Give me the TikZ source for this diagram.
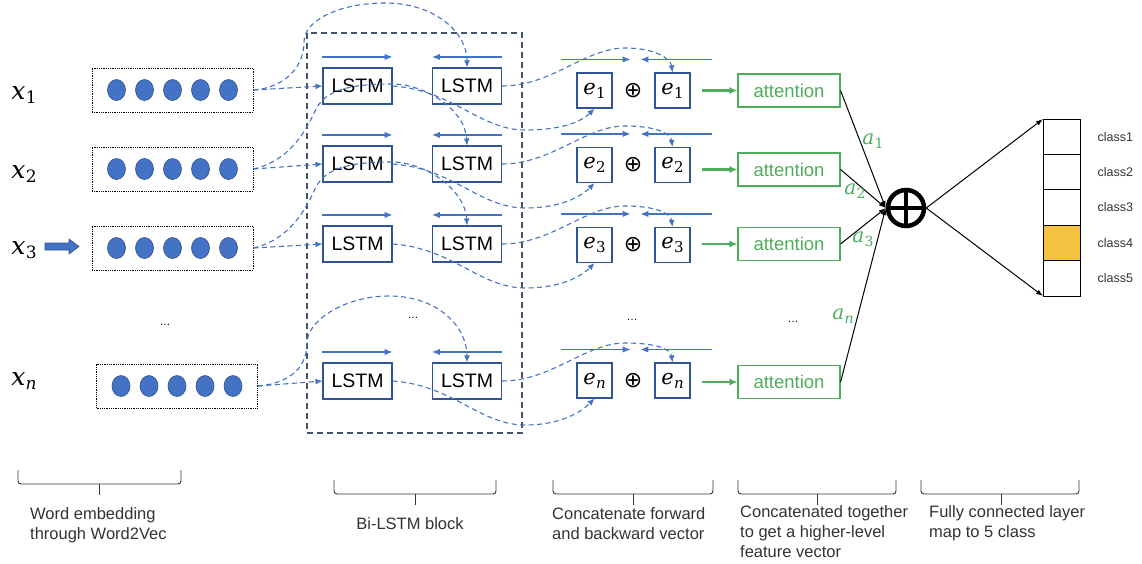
\documentclass[tikz,border=0pt]{standalone}
\usepackage{fontspec}
\setmainfont{Liberation Sans}
\newfontfamily\varfont{DejaVu Serif}
\newfontfamily\symfont{DejaVu Sans}
\usetikzlibrary{arrows.meta,calc}
\definecolor{lblue}{HTML}{4472C4}
\definecolor{dblue}{HTML}{2F5597}
\definecolor{edgeblue}{HTML}{2F528F}
\definecolor{slate}{HTML}{44546A}
\definecolor{grn}{HTML}{4EAD5B}
\definecolor{gold}{HTML}{F5C242}
\definecolor{braceg}{HTML}{333333}
\newcommand{\fs}[1]{\fontsize{#1}{#1}\selectfont}
% italic symbol with a lowered subscript: size, subscript size, letter, subscript
\newcommand{\sym}[4]{{\varfont\fs{#1}\itshape #3}\kern0.3pt\raisebox{-4pt}{\varfont\fs{#2}#4}}
\begin{document}
\begin{tikzpicture}[x=1pt,y=-1pt,
  emb/.style={draw=black, densely dotted, line width=0.8pt, minimum width=161pt, minimum height=44pt, inner sep=0pt},
  lstm/.style={draw=dblue, line width=1.1pt, minimum width=69pt, minimum height=36pt, inner sep=0pt, font=\fs{19.5}},
  ebox/.style={draw=dblue, line width=1.1pt, minimum width=35pt, minimum height=35pt, inner sep=0pt},
  att/.style={draw=grn, line width=1.1pt, minimum width=102pt, minimum height=33pt, inner sep=0pt, text=grn, font=\fs{18.5}},
  flow/.style={draw=lblue, line width=1.1pt, dash pattern=on 5pt off 3.5pt, -{Latex[length=7pt,width=6pt]}},
  dirarrow/.style={draw=lblue, line width=1.3pt, -{Latex[length=8pt,width=6.5pt]}},
  garrow/.style={draw=grn, line width=2.5pt, -{Latex[length=8pt,width=7pt]}},
  blk/.style={draw=black, line width=1pt, -{Latex[length=7pt,width=5pt]}},
  brk/.style={draw=braceg, line width=0.9pt, rounded corners=3pt},
  note/.style={anchor=base west, inner sep=0pt, font=\fs{16.5}, text=braceg},
  dots/.style={font=\fs{11}}
]
\useasboundingbox (0,0) rectangle (1142,563);

% word embedding boxes with their vector entries
\foreach \r/\Y/\X in {1/90/172.5, 2/169/172.5, 3/248/172.5, n/386/177}{
  \node[emb] (emb\r) at (\X,\Y) {};
  \foreach \dx in {-56,-28,0,28,56}
    \filldraw[fill=lblue, draw=edgeblue, line width=0.6pt] ({\X+\dx},\Y) ellipse [x radius=9, y radius=10.5];
}
\foreach \r/\Y/\s in {1/95/1, 2/174/2, 3/250/3, n/381/\itshape n}
  \node[inner sep=0pt] (x\r) at (24,\Y) {\sym{25}{17}{x}{\s}};
\filldraw[fill=lblue, draw=edgeblue, line width=0.6pt]
  (45,243) -- (69,243) -- (69,239) -- (79,246.5) -- (69,254) -- (69,250) -- (45,250) -- cycle;
\node[dots] (dot1) at (165,325) {\ldots};

% Bi-LSTM block
\node[draw=slate, line width=1.2pt, dash pattern=on 6pt off 4pt, minimum width=215pt, minimum height=400pt, inner sep=0pt] (blk) at (414.5,233) {};
\foreach \r/\Y in {1/86, 2/164, 3/244, n/381}{
  \node[lstm] (fl\r) at (357.5,\Y) {LSTM};
  \node[lstm] (bl\r) at (467,\Y) {LSTM};
  \draw[dirarrow] ([yshift=10.5pt]fl\r.north west) -- ([yshift=10.5pt]fl\r.north east);
  \draw[dirarrow] ([yshift=10.5pt]bl\r.north east) -- ([yshift=10.5pt]bl\r.north west);
}
\node[dots] (dot2) at (413,318) {\ldots};

% concatenation of forward and backward states
\foreach \r/\Y/\s in {1/90.5/1, 2/165/2, 3/245/3, n/380.5/\itshape n}{
  \node[ebox] (ef\r) at (594.5,\Y) {\sym{21}{15}{e}{\s}};
  \node[font=\symfont\fs{22}, inner sep=0pt] (op\r) at (633,\Y) {⊕};
  \node[ebox] (eb\r) at (672.5,\Y) {\sym{21}{15}{e}{\s}};
  \draw[dirarrow] ($(ef\r.north west)+(-15,-13)$) -- ($(ef\r.north east)+(18,-13)$);
  \draw[dirarrow] ($(eb\r.north east)+(21,-13)$) -- ($(eb\r.north west)+(-14,-13)$);
}
\node[dots] (dot3) at (632,320) {\ldots};

% attention layer
\foreach \r/\Y in {1/90.5, 2/169.5, 3/244, n/382}{
  \node[att] (att\r) at (789,\Y) {attention};
  \draw[garrow] ([xshift=-35pt]att\r.west) -- (att\r.west);
}
\node[dots] (dot4) at (793,322) {\ldots};

% inputs into the forward LSTMs
\foreach \r in {1,2,3,n}
  \draw[flow] (emb\r.east) -- (fl\r.west);

% inputs into the backward LSTMs
\draw[flow] (emb1.east) .. controls +(35,-3) and +(0,22) .. (304,42)
  .. controls +(0,-22) and +(-45,0) .. (385,3)
  .. controls +(50,0) and +(0,-35) .. (bl1.north);
\draw[flow] (emb2.east) .. controls +(35,-8) and +(-10,22) .. (315,111)
  .. controls +(10,-22) and +(-40,0) .. (392,84)
  .. controls +(33,0) and +(-2,-36) .. (bl2.north);
\draw[flow] (emb3.east) .. controls +(35,-8) and +(-10,22) .. (315,189)
  .. controls +(10,-22) and +(-40,0) .. (392,162)
  .. controls +(33,0) and +(-2,-36) .. (bl3.north);
\draw[flow] (embn.east) .. controls +(35,-3) and +(0,22) .. (307,343)
  .. controls +(0,-22) and +(-45,0) .. (389,296)
  .. controls +(50,0) and +(0,-35) .. (bln.north);

% LSTM outputs into the concatenation
\foreach \r/\L in {1/86, 2/164, 3/244, n/381}{
  \draw[flow] (fl\r.east) .. controls +(60,4) and +(-45,0) .. (525,\L+44)
    .. controls +(35,0) and +(-14,14) .. (ef\r.south);
  \draw[flow] (bl\r.east) .. controls +(50,0) and +(-40,0) .. (625,\L-38)
    .. controls +(30,0) and +(-2,-14) .. (eb\r.north);
}

% weighted sum
\node[circle, draw=black, line width=4.5pt, minimum size=36pt, inner sep=0pt] (sum) at (906,208) {};
\draw[line width=4.5pt] ([yshift=18pt]sum.center) -- ([yshift=-18pt]sum.center)
  ([xshift=-18pt]sum.center) -- ([xshift=18pt]sum.center);
\foreach \r in {1,2,3,n}
  \draw[blk] (att\r.east) -- (sum.west);
\node[text=grn, inner sep=0pt] (a1) at (873,141) {\sym{20}{14}{a}{1}};
\node[text=grn, inner sep=0pt] (a2) at (855,191) {\sym{20}{14}{a}{2}};
\node[text=grn, inner sep=0pt] (a3) at (863,239) {\sym{20}{14}{a}{3}};
\node[text=grn, inner sep=0pt] (an) at (843,316) {\sym{20}{14}{a}{\itshape n}};

% output layer
\foreach \k in {1,...,5}{
  \node[draw=black, line width=1pt, minimum width=37pt, minimum height=35.4pt, inner sep=0pt, outer sep=0pt] (c\k) at (1061.5,{119+35.4*\k-17.7}) {};
  \node[anchor=west, font=\fs{12.5}, text=braceg] (cl\k) at (1094,{119+35.4*\k-17.7}) {class\k};
}
\fill[gold] (c4.north west) rectangle (c4.south east);
\draw[line width=1pt] (c4.north west) rectangle (c4.south east);
\draw[blk] (sum.east) -- (c1.north west);
\draw[blk] (sum.east) -- (c5.south west);

% stage braces and captions
\draw[brk] (18,470) -- (18,484) -- (181,484) -- (181,470);
\draw[brk] (99,484) -- (99,495);
\draw[brk] (334,480) -- (334,494) -- (496,494) -- (496,480);
\draw[brk] (415,494) -- (415,505);
\draw[brk] (553,480) -- (553,494) -- (713,494) -- (713,480);
\draw[brk] (633,494) -- (633,505);
\draw[brk] (738,480) -- (738,494) -- (896,494) -- (896,480);
\draw[brk] (817,494) -- (817,505);
\draw[brk] (921,480) -- (921,494) -- (1079,494) -- (1079,480);
\draw[brk] (1001,494) -- (1001,505);

\node[note] (t1a) at (30,519.5) {Word embedding};
\node[note] (t1b) at (30,539.5) {through Word2Vec};
\node[note, anchor=base] (t2a) at (410,529) {Bi-LSTM block};
\node[note] (t3a) at (552,519.5) {Concatenate forward};
\node[note] (t3b) at (552,539.5) {and backward vector};
\node[note] (t4a) at (740,517.5) {Concatenated together};
\node[note] (t4b) at (740,537.5) {to get a higher-level};
\node[note] (t4c) at (740,557) {feature vector};
\node[note] (t5a) at (929,517.5) {Fully connected layer};
\node[note] (t5b) at (929,537.5) {map to 5 class};
\end{tikzpicture}
\end{document}
